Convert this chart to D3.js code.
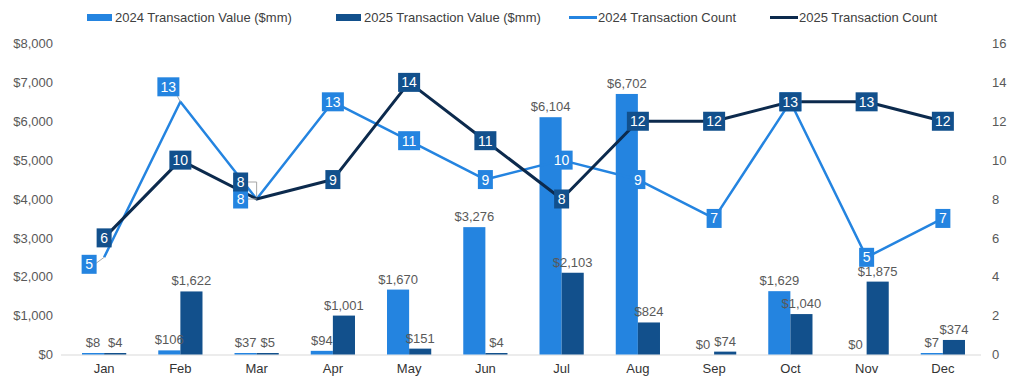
<!DOCTYPE html>
<html>
<head>
<meta charset="utf-8">
<script src="https://cdn.jsdelivr.net/npm/d3@7"></script>
<style>
  body { margin: 0; background: #fff; }
  svg { font-family: "Liberation Sans", Arial, sans-serif; }
</style>
</head>
<body>
<script>
// chart data
const months = ["Jan","Feb","Mar","Apr","May","Jun","Jul","Aug","Sep","Oct","Nov","Dec"];
const value2024 = [8, 106, 37, 94, 1670, 3276, 6104, 6702, 0, 1629, 0, 7];
const value2025 = [4, 1622, 5, 1001, 151, 4, 2103, 824, 74, 1040, 1875, 374];
const count2024 = [5, 13, 8, 13, 11, 9, 10, 9, 7, 13, 5, 7];
const count2025 = [6, 10, 8, 9, 14, 11, 8, 12, 12, 13, 13, 12];
const valueTicks = [0, 1000, 2000, 3000, 4000, 5000, 6000, 7000, 8000];
const countTicks = [0, 2, 4, 6, 8, 10, 12, 14, 16];

const w = 1026, h = 391;
const lightBlue = "#2484E0",
      darkBlue = "#12508C",
      navy = "#0C2A4D";

const svg = d3.select("body").append("svg")
  .attr("width", w)
  .attr("height", h);

const x = d3.scaleBand()
  .domain(months)
  .range([66, 981])
  .paddingInner(0.42)
  .paddingOuter(0.21);

const xInner = d3.scaleBand()
  .domain(["2024", "2025"])
  .range([0, x.bandwidth()]);

const yLeft = d3.scaleLinear().domain([0, 8000]).range([354.5, 43.5]);
const yRight = d3.scaleLinear().domain([0, 16]).range([354.5, 43.5]);

const fmt = d3.format("$,");

// axes
const leftAxis = svg.append("g")
  .attr("transform", "translate(56,0)")
  .call(d3.axisLeft(yLeft).tickValues(valueTicks).tickFormat(fmt).tickSize(0).tickPadding(3));
leftAxis.select(".domain").remove();

const rightAxis = svg.append("g")
  .attr("transform", "translate(989,0)")
  .call(d3.axisRight(yRight).tickValues(countTicks).tickSize(0).tickPadding(3));
rightAxis.select(".domain").remove();

svg.selectAll(".tick text")
  .attr("font-size", 13)
  .attr("font-family", "Liberation Sans, Arial, sans-serif")
  .attr("fill", "#595959");

const bottomAxis = svg.append("g")
  .attr("transform", "translate(0,355)")
  .call(d3.axisBottom(x).tickSize(0).tickPadding(9));
bottomAxis.select(".domain").attr("stroke", "#D9D9D9").attr("d", "M66,0H981");
bottomAxis.selectAll(".tick text")
  .attr("font-size", 13)
  .attr("font-family", "Liberation Sans, Arial, sans-serif")
  .attr("fill", "#333");

svg.append("line")
  .attr("x1", 61).attr("x2", 66)
  .attr("y1", 355).attr("y2", 355)
  .attr("stroke", "#D9D9D9");

// bars
const barData = [];
months.forEach((m, i) => {
  barData.push({ m, key: "2024", v: value2024[i] });
  barData.push({ m, key: "2025", v: value2025[i] });
});

const barH = d => d.v > 0 ? Math.max(1.5, yLeft(0) - yLeft(d.v)) : 0;

svg.append("g").selectAll("rect")
  .data(barData)
  .enter()
  .append("rect")
  .attr("x", d => x(d.m) + xInner(d.key))
  .attr("width", xInner.bandwidth())
  .attr("y", d => yLeft(0) - barH(d))
  .attr("height", d => barH(d))
  .attr("fill", d => d.key === "2024" ? lightBlue : darkBlue);

svg.append("g").selectAll("text")
  .data(barData)
  .enter()
  .append("text")
  .attr("x", d => x(d.m) + xInner(d.key) + xInner.bandwidth() / 2)
  .attr("y", d => yLeft(0) - barH(d) - 6)
  .attr("text-anchor", "middle")
  .attr("font-size", 13)
  .attr("fill", "#595959")
  .text(d => fmt(d.v));

// lines
const cx = m => x(m) + x.bandwidth() / 2;
const line = d3.line()
  .x((d, i) => cx(months[i]))
  .y(d => yRight(d));

svg.append("path")
  .datum(count2024)
  .attr("d", line)
  .attr("fill", "none")
  .attr("stroke", lightBlue)
  .attr("stroke-width", 2.5)
  .attr("stroke-linejoin", "round");

svg.append("path")
  .datum(count2025)
  .attr("d", line)
  .attr("fill", "none")
  .attr("stroke", navy)
  .attr("stroke-width", 3)
  .attr("stroke-linejoin", "round");

// count labels (a few nudged off the point like the original)
const nudge = {
  "2024-0": [-15, 7],
  "2024-1": [-12, -15],
  "2024-2": [-16, 0],
  "2025-2": [-16, -17]
};

function drawLabels(values, key, fill) {
  const g = svg.append("g");
  values.forEach((v, i) => {
    const px = cx(months[i]), py = yRight(v);
    const off = nudge[key + "-" + i] || [0, 0];
    const lx = px + off[0], ly = py + off[1];
    const bw = v >= 10 ? 22 : 15, bh = 19;
    if (off[0] || off[1]) {
      let path;
      if (key === "2025" && i === 2) path = `M${lx + bw / 2},${ly}H${px}V${py - 2}`;
      else path = `M${lx + (off[0] ? bw / 2 - 2 : 0)},${ly + (off[1] < 0 ? bh / 2 : 0)}L${px},${py}`;
      g.append("path").attr("d", path).attr("fill", "none")
        .attr("stroke", "#A6A6A6").attr("stroke-width", 1);
    }
    g.append("rect")
      .attr("x", lx - bw / 2)
      .attr("y", ly - bh / 2)
      .attr("width", bw)
      .attr("height", bh)
      .attr("fill", fill);
    g.append("text")
      .attr("x", lx)
      .attr("y", ly + 5)
      .attr("text-anchor", "middle")
      .attr("font-size", 14)
      .attr("fill", "#fff")
      .text(v);
  });
}
drawLabels(count2024, "2024", lightBlue);
drawLabels(count2025, "2025", darkBlue);

// legend
const legendItems = [
  { label: "2024 Transaction Value ($mm)", type: "rect", color: lightBlue, x: 87 },
  { label: "2025 Transaction Value ($mm)", type: "rect", color: darkBlue, x: 336 },
  { label: "2024 Transaction Count", type: "line", color: lightBlue, x: 569 },
  { label: "2025 Transaction Count", type: "line", color: navy, x: 770 }
];

const legend = svg.append("g");
legendItems.forEach(d => {
  if (d.type === "rect") {
    legend.append("rect").attr("x", d.x).attr("y", 14).attr("width", 25).attr("height", 7).attr("fill", d.color);
  } else {
    legend.append("line").attr("x1", d.x).attr("x2", d.x + 28).attr("y1", 17.5).attr("y2", 17.5)
      .attr("stroke", d.color).attr("stroke-width", 3);
  }
  legend.append("text")
    .attr("x", d.x + (d.type === "rect" ? 28 : 29))
    .attr("y", 22)
    .attr("font-size", 13)
    .attr("fill", "#404040")
    .text(d.label);
});
</script>
</body>
</html>
